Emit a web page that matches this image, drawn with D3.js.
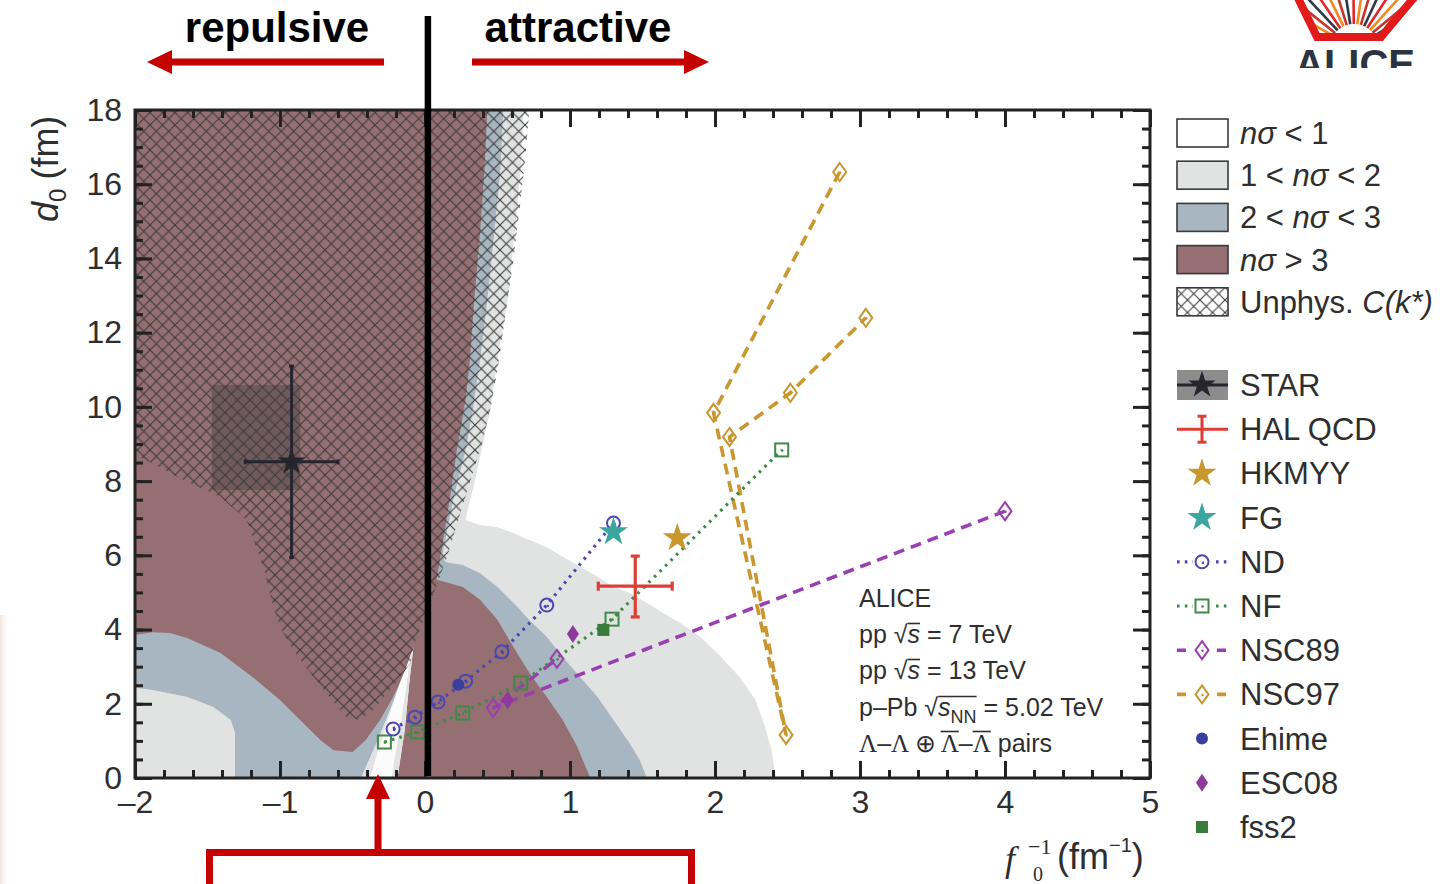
<!DOCTYPE html>
<html>
<head>
<meta charset="utf-8">
<script src="https://cdn.jsdelivr.net/npm/d3@7/dist/d3.min.js"></script>
<style>
  html, body { margin: 0; padding: 0; background: #ffffff; }
  svg { display: block; font-family: "Liberation Sans", Arial, Helvetica, sans-serif; }
</style>
</head>
<body>
<svg id="chart" width="1442" height="884"></svg>
<script>
// ---------------- axes ----------------
const fDomain = [-2, 5];
const dDomain = [0, 18];
const fMajorTicks = [-2, -1, 0, 1, 2, 3, 4, 5];
const dMajorTicks = [0, 2, 4, 6, 8, 10, 12, 14, 16, 18];
const fMinorStep = 0.2;
const dMinorStep = 0.5;

// ---------------- exclusion regions, vertices as [f0^-1 (fm^-1), d0 (fm)] ----------------
// n sigma > 1 (right-hand hump and strip)
const regionAbove1Right = [[-0.03,18],[0.68,18],[0.66,16.38],[0.62,14.77],[0.57,12.88],[0.50,11.26],[0.45,9.92],[0.39,8.84],[0.33,7.76],[0.31,7.49],[0.28,6.95],[0.38,6.82],[0.50,6.76],[0.61,6.60],[0.72,6.41],[0.84,6.22],[0.95,5.96],[1.07,5.69],[1.19,5.42],[1.30,5.15],[1.41,4.99],[1.53,4.72],[1.64,4.45],[1.76,4.18],[1.90,3.80],[2.03,3.31],[2.17,2.72],[2.28,2.10],[2.34,1.43],[2.39,0.75],[2.42,0],[-0.03,0]];
// n sigma > 2 (right-hand band and strip)
const regionAbove2Right = [[-0.03,18],[0.54,18],[0.52,16.38],[0.48,14.77],[0.43,12.88],[0.38,11.26],[0.33,9.92],[0.28,8.84],[0.21,7.76],[0.16,6.82],[0.12,6.01],[0.14,5.82],[0.26,5.74],[0.38,5.52],[0.50,5.15],[0.61,4.72],[0.72,4.26],[0.84,3.80],[0.95,3.26],[1.07,2.72],[1.19,2.18],[1.30,1.56],[1.41,0.94],[1.48,0.49],[1.53,0],[-0.03,0]];
// 1 < n sigma < 2 corner, lower left
const region1to2Left = [[-2,0],[-2,2.43],[-1.88,2.37],[-1.64,2.18],[-1.46,1.91],[-1.34,1.56],[-1.31,1.21],[-1.31,0]];
// 2 < n sigma < 3, lower left
const region2to3Left = [[-1.31,0],[-1.31,1.21],[-1.34,1.56],[-1.46,1.91],[-1.64,2.18],[-1.88,2.37],[-2,2.43],[-2,4.5],[-0.08,4.5],[-0.08,3.53],[-0.10,3.31],[-0.16,2.64],[-0.24,1.83],[-0.34,0.89],[-0.44,0]];
// n sigma > 3
const regionAbove3 = [[-2,18],[0.43,18],[0.41,16.38],[0.38,14.69],[0.34,12.88],[0.31,11.26],[0.28,10.19],[0.22,8.84],[0.17,7.49],[0.12,6.28],[0.08,5.34],[0.17,5.25],[0.26,5.15],[0.38,4.80],[0.50,4.26],[0.61,3.53],[0.72,2.83],[0.84,2.18],[0.95,1.56],[1.05,0.84],[1.14,0],[-0.19,0],[-0.14,1.29],[-0.11,2.50],[-0.08,3.53],[-0.10,3.31],[-0.14,2.83],[-0.22,2.18],[-0.31,1.56],[-0.41,1.02],[-0.50,0.70],[-0.63,0.75],[-0.72,1.02],[-0.84,1.48],[-1.00,2.10],[-1.19,2.72],[-1.41,3.37],[-1.64,3.77],[-1.76,3.91],[-1.88,3.93],[-2,3.85]];
// narrow valley near f0^-1 = -0.3
const valleyOuter = [[-0.44,0],[-0.34,0.89],[-0.24,1.83],[-0.16,2.64],[-0.10,3.31],[-0.08,3.53],[-0.11,2.50],[-0.14,1.29],[-0.19,0]];
const valleyInner = [[-0.38,0],[-0.28,1.30],[-0.17,2.60],[-0.105,3.20],[-0.13,2.40],[-0.18,1.20],[-0.23,0]];
// unphysical correlation function
const regionUnphysical = [[-2,18],[0.72,18],[0.69,16.65],[0.66,15.58],[0.61,13.96],[0.55,12.34],[0.50,10.99],[0.45,9.92],[0.39,8.97],[0.31,7.98],[0.23,6.95],[0.15,5.93],[0.10,5.39],[0.05,4.88],[0.00,4.39],[-0.08,3.53],[-0.10,3.10],[-0.17,2.72],[-0.26,2.29],[-0.36,1.83],[-0.45,1.56],[-0.54,1.64],[-0.66,2.18],[-0.79,2.83],[-0.91,3.45],[-1.00,4.07],[-1.06,4.80],[-1.10,5.47],[-1.14,5.96],[-1.23,6.95],[-1.41,7.57],[-1.69,8.08],[-1.90,8.52],[-2,8.70]];

// ---------------- measurements and models ----------------
const starF = -0.92, starD = 8.52, starFErr = 0.32, starDErr = 2.58;
const starSysF = [-1.47, -0.86], starSysD = [7.76, 10.59];
const halF = 1.45, halD = 5.17, halFErr = 0.255, halDErrLo = 0.83, halDErrHi = 0.81;
const hkmyyF = [1.74], hkmyyD = [6.47];
const fgF = [1.30], fgD = [6.63];
const ndF = [-0.22, -0.07, 0.09, 0.28, 0.53, 0.84, 1.30];
const ndD = [1.32, 1.64, 2.05, 2.61, 3.40, 4.66, 6.87];
const nfF = [-0.28, -0.05, 0.26, 0.66, 1.29, 2.46];
const nfD = [0.97, 1.24, 1.75, 2.56, 4.28, 8.84];
const nsc89F = [4.00, 0.47, 0.91];
const nsc89D = [7.19, 1.89, 3.21];
const nsc97F = [2.86, 1.99, 2.49, 2.10, 2.52, 3.04];
const nsc97D = [16.33, 9.84, 1.16, 9.19, 10.38, 12.40];
const ehimeF = [0.23], ehimeD = [2.51];
const esc08F = [0.57, 1.02], esc08D = [2.10, 3.88];
const fss2F = [1.23], fss2D = [3.99];

const regionLegend = [
  { parts: [{ t: "nσ", i: true }, { t: " < 1" }], key: "white" },
  { parts: [{ t: "1 < " }, { t: "nσ", i: true }, { t: " < 2" }], key: "light" },
  { parts: [{ t: "2 < " }, { t: "nσ", i: true }, { t: " < 3" }], key: "blue" },
  { parts: [{ t: "nσ", i: true }, { t: " > 3" }], key: "maroon" },
  { parts: [{ t: "Unphys. " }, { t: "C(k*)", i: true }], key: "hatch" }
];
const seriesLegend = ["STAR", "HAL QCD", "HKMYY", "FG", "ND", "NF", "NSC89", "NSC97", "Ehime", "ESC08", "fss2"];

// ---------------- styles ----------------
const COL = {
  white: "#ffffff", light: "#e1e2e2", blue: "#a7b6c0", maroon: "#956f71",
  ink: "#222222", text: "#2e2e2e", red: "#c40000",
  star: "#25252f", hal: "#dd3d32", hkmyy: "#c8982f", fg: "#3ba69f",
  nd: "#4a47b0", nf: "#3f8a47", nsc89: "#9a3fb0", nsc97: "#c9962f",
  ehime: "#383f9c", esc08: "#8e3a9c", fss2: "#3b7a3d"
};
const SERIF = "'Liberation Serif', 'Times New Roman', serif";

const svg = d3.select("#chart");
const defs = svg.append("defs");

const x = d3.scaleLinear().domain(fDomain).range([135, 1150]);
const y = d3.scaleLinear().domain(dDomain).range([778, 110]);

defs.append("clipPath").attr("id", "plotClip").append("rect")
  .attr("x", x(fDomain[0])).attr("y", y(dDomain[1]))
  .attr("width", x(fDomain[1]) - x(fDomain[0])).attr("height", y(dDomain[0]) - y(dDomain[1]));

const hatch = defs.append("pattern").attr("id", "hatch")
  .attr("patternUnits", "userSpaceOnUse").attr("width", 12.5).attr("height", 12.5);
hatch.append("path").attr("d", "M0,0L12.5,12.5M12.5,0L0,12.5")
  .attr("stroke", "#3a3a3a").attr("stroke-width", 1.05).attr("fill", "none");

const edgeGrad = defs.append("linearGradient").attr("id", "edgeGrad").attr("x1", 0).attr("x2", 1).attr("y1", 0).attr("y2", 0);
edgeGrad.append("stop").attr("offset", 0).attr("stop-color", "#f4e4df");
edgeGrad.append("stop").attr("offset", 1).attr("stop-color", "#ffffff").attr("stop-opacity", 0);
svg.append("rect").attr("x", 0).attr("y", 615).attr("width", 11).attr("height", 269).attr("fill", "url(#edgeGrad)");

// ---------------- regions ----------------
const polyLine = d3.line().x(p => x(p[0])).y(p => y(p[1]));
const plot = svg.append("g").attr("clip-path", "url(#plotClip)");
function region(pts, fill) { plot.append("path").attr("d", polyLine(pts) + "Z").attr("fill", fill); }
region(regionAbove1Right, COL.light);
region(regionAbove2Right, COL.blue);
region(region1to2Left, COL.light);
region(region2to3Left, COL.blue);
region(regionAbove3, COL.maroon);
region(valleyOuter, COL.light);
region(valleyInner, "#fbfbfb");

// STAR systematic box sits under the hatching
plot.append("rect")
  .attr("x", x(starSysF[0])).attr("y", y(starSysD[1]))
  .attr("width", x(starSysF[1]) - x(starSysF[0])).attr("height", y(starSysD[0]) - y(starSysD[1]))
  .attr("fill", "#3e3e3e").attr("fill-opacity", 0.42);

region(regionUnphysical, "url(#hatch)");

// ---------------- model lines ----------------
function series(fs, ds) { return fs.map((f, i) => [f, ds[i]]); }
const DOT = "2.6,5.2", DASH = "11,7";
function modelLine(pts, color, dash, width) {
  plot.append("path").attr("d", polyLine(pts)).attr("fill", "none")
    .attr("stroke", color).attr("stroke-width", width).attr("stroke-dasharray", dash);
}
modelLine(series(nsc97F, nsc97D), COL.nsc97, DASH, 3.6);
modelLine(series(nsc89F, nsc89D), COL.nsc89, DASH, 3.6);
modelLine(series(nfF, nfD), COL.nf, DOT, 3.2);
modelLine(series(ndF, ndD), COL.nd, DOT, 3.2);

// ---------------- markers ----------------
const marks = svg.append("g");
function openCircle(g, cx, cy, color) {
  g.append("circle").attr("cx", cx).attr("cy", cy).attr("r", 6.5).attr("fill", "none").attr("stroke", color).attr("stroke-width", 2);
  g.append("circle").attr("cx", cx + 1).attr("cy", cy + 1).attr("r", 1.3).attr("fill", color);
}
function openSquare(g, cx, cy, color) {
  g.append("rect").attr("x", cx - 6.5).attr("y", cy - 6.5).attr("width", 13).attr("height", 13).attr("fill", "none").attr("stroke", color).attr("stroke-width", 2);
  g.append("circle").attr("cx", cx + 0.5).attr("cy", cy + 0.5).attr("r", 1.3).attr("fill", color);
}
function openDiamond(g, cx, cy, color) {
  g.append("path").attr("d", `M${cx},${cy - 9}L${cx + 6.5},${cy}L${cx},${cy + 9}L${cx - 6.5},${cy}Z`).attr("fill", "#fff").attr("fill-opacity", 0).attr("stroke", color).attr("stroke-width", 2);
  g.append("circle").attr("cx", cx + 0.5).attr("cy", cy + 0.5).attr("r", 1.2).attr("fill", color);
}
function filledCircle(g, cx, cy, color) { g.append("circle").attr("cx", cx).attr("cy", cy).attr("r", 6).attr("fill", color); }
function filledDiamond(g, cx, cy, color) { g.append("path").attr("d", `M${cx},${cy - 9}L${cx + 6},${cy}L${cx},${cy + 9}L${cx - 6},${cy}Z`).attr("fill", color); }
function filledSquare(g, cx, cy, color) { g.append("rect").attr("x", cx - 6).attr("y", cy - 6).attr("width", 12).attr("height", 12).attr("fill", color); }
function star(g, cx, cy, color, size) { g.append("path").attr("d", d3.symbol(d3.symbolStar).size(size)()).attr("transform", `translate(${cx},${cy})`).attr("fill", color); }

nsc97F.forEach((f, i) => openDiamond(marks, x(f), y(nsc97D[i]), COL.nsc97));
nsc89F.forEach((f, i) => openDiamond(marks, x(f), y(nsc89D[i]), COL.nsc89));
nfF.forEach((f, i) => openSquare(marks, x(f), y(nfD[i]), COL.nf));
ndF.forEach((f, i) => openCircle(marks, x(f), y(ndD[i]), COL.nd));
ehimeF.forEach((f, i) => filledCircle(marks, x(f), y(ehimeD[i]), COL.ehime));
esc08F.forEach((f, i) => filledDiamond(marks, x(f), y(esc08D[i]), COL.esc08));
fss2F.forEach((f, i) => filledSquare(marks, x(f), y(fss2D[i]), COL.fss2));
hkmyyF.forEach((f, i) => star(marks, x(f), y(hkmyyD[i]), COL.hkmyy, 260));
fgF.forEach((f, i) => star(marks, x(f), y(fgD[i]), COL.fg, 260));

// error bars with end caps
function errorCross(g, f, d, fLo, fHi, dLo, dHi, color, width, cap) {
  const cx = x(f), cy = y(d);
  g.append("line").attr("x1", x(f - fLo)).attr("x2", x(f + fHi)).attr("y1", cy).attr("y2", cy).attr("stroke", color).attr("stroke-width", width);
  g.append("line").attr("x1", cx).attr("x2", cx).attr("y1", y(d - dLo)).attr("y2", y(d + dHi)).attr("stroke", color).attr("stroke-width", width);
  [[x(f - fLo), cy, 0], [x(f + fHi), cy, 0], [cx, y(d - dLo), 1], [cx, y(d + dHi), 1]].forEach(([px, py, vert]) => {
    if (vert) g.append("line").attr("x1", px - cap).attr("x2", px + cap).attr("y1", py).attr("y2", py).attr("stroke", color).attr("stroke-width", width);
    else g.append("line").attr("x1", px).attr("x2", px).attr("y1", py - cap).attr("y2", py + cap).attr("stroke", color).attr("stroke-width", width);
  });
}
errorCross(marks, halF, halD, halFErr, halFErr, halDErrLo, halDErrHi, COL.hal, 3.2, 4.5);
errorCross(marks, starF, starD, starFErr, starFErr, starDErr, starDErr, COL.star, 3, 2.5);
star(marks, x(starF), y(starD), COL.star, 230);

// ---------------- frame and ticks ----------------
const fmt = v => (v < 0 ? "–" + Math.abs(v) : String(v));
const fMinor = d3.range(fDomain[0], fDomain[1] + 1e-9, fMinorStep).map(v => +v.toFixed(2));
const dMinor = d3.range(dDomain[0], dDomain[1] + 1e-9, dMinorStep);
function styleAxis(g) {
  g.select(".domain").remove();
  g.attr("font-family", null).attr("font-size", 32);
  g.selectAll(".tick line").attr("stroke", COL.ink).attr("stroke-width", 3);
  g.selectAll(".tick text").attr("fill", COL.text);
}
const axes = svg.append("g");
axes.append("g").attr("transform", `translate(0,${y(0)})`)
  .call(d3.axisBottom(x).tickValues(fMinor).tickSize(-8).tickSizeOuter(0).tickFormat("")).call(styleAxis);
axes.append("g").attr("transform", `translate(0,${y(0)})`)
  .call(d3.axisBottom(x).tickValues(fMajorTicks).tickSize(-17).tickSizeOuter(0).tickPadding(12).tickFormat(fmt)).call(styleAxis);
axes.append("g").attr("transform", `translate(0,${y(18)})`)
  .call(d3.axisTop(x).tickValues(fMinor).tickSize(-8).tickSizeOuter(0).tickFormat("")).call(styleAxis);
axes.append("g").attr("transform", `translate(0,${y(18)})`)
  .call(d3.axisTop(x).tickValues(fMajorTicks).tickSize(-17).tickSizeOuter(0).tickFormat("")).call(styleAxis);
axes.append("g").attr("transform", `translate(${x(-2)},0)`)
  .call(d3.axisLeft(y).tickValues(dMinor).tickSize(-8).tickSizeOuter(0).tickFormat("")).call(styleAxis);
axes.append("g").attr("transform", `translate(${x(-2)},0)`)
  .call(d3.axisLeft(y).tickValues(dMajorTicks).tickSize(-17).tickSizeOuter(0).tickPadding(13).tickFormat(fmt)).call(styleAxis);
axes.append("g").attr("transform", `translate(${x(5)},0)`)
  .call(d3.axisRight(y).tickValues(dMinor).tickSize(-8).tickSizeOuter(0).tickFormat("")).call(styleAxis);
axes.append("g").attr("transform", `translate(${x(5)},0)`)
  .call(d3.axisRight(y).tickValues(dMajorTicks).tickSize(-17).tickSizeOuter(0).tickFormat("")).call(styleAxis);
axes.append("rect").attr("x", x(-2)).attr("y", y(18)).attr("width", x(5) - x(-2)).attr("height", y(0) - y(18))
  .attr("fill", "none").attr("stroke", COL.ink).attr("stroke-width", 3);

// axis titles
const yTitle = svg.append("text").attr("transform", "translate(58,222) rotate(-90)").attr("font-size", 36).attr("fill", COL.text);
yTitle.append("tspan").attr("font-style", "italic").text("d");
yTitle.append("tspan").attr("font-size", 24).attr("dy", 8).text("0");
yTitle.append("tspan").attr("dy", -8).attr("dx", 9).text("(fm)");

const xt = svg.append("g").attr("fill", COL.text);
xt.append("text").attr("x", 1005).attr("y", 871).attr("font-family", SERIF).attr("font-style", "italic").attr("font-size", 36).text("f");
xt.append("text").attr("x", 1028).attr("y", 854).attr("font-family", SERIF).attr("font-size", 22).text("−1");
xt.append("text").attr("x", 1033).attr("y", 881).attr("font-family", SERIF).attr("font-size", 20).text("0");
const xUnit = xt.append("text").attr("x", 1057).attr("y", 869).attr("font-size", 36);
xUnit.append("tspan").text("(fm");
xUnit.append("tspan").attr("font-size", 20).attr("dy", -17).text("−1");
xUnit.append("tspan").attr("dy", 17).text(")");

// ---------------- rich text helper ----------------
function richText(g, px, py, parts, size) {
  const t = g.append("text").attr("x", px).attr("y", py).attr("font-size", size).attr("fill", COL.text);
  let shift = 0;
  const spans = [];
  parts.forEach(p => {
    const s = t.append("tspan").text(p.t);
    if (p.i) s.attr("font-style", "italic");
    if (p.serif) s.attr("font-family", SERIF);
    const target = p.sub ? size * 0.28 : 0;
    if (target !== shift) { s.attr("dy", target - shift); shift = target; }
    if (p.sub) s.attr("font-size", size * 0.72);
    spans.push({ node: s.node(), p, shift });
  });
  // overlines, grouped by key
  const groups = {};
  spans.forEach(o => {
    if (!o.p.ov) return;
    const n = o.node;
    const x0 = n.getStartPositionOfChar(0).x;
    const x1 = x0 + n.getComputedTextLength();
    const gk = o.p.ov;
    if (!groups[gk]) groups[gk] = { x0, x1, h: o.p.oh || 0.82 };
    groups[gk].x0 = Math.min(groups[gk].x0, x0);
    groups[gk].x1 = Math.max(groups[gk].x1, x1);
  });
  Object.values(groups).forEach(gr => {
    g.append("line").attr("x1", gr.x0).attr("x2", gr.x1).attr("y1", py - size * gr.h).attr("y2", py - size * gr.h)
      .attr("stroke", COL.text).attr("stroke-width", 1.6);
  });
  return t;
}

// ---------------- legend ----------------
const leg = svg.append("g");
regionLegend.forEach((r, i) => {
  const cy = 133 + i * 42.2;
  const fill = r.key === "hatch" ? "url(#hatch)" : COL[r.key];
  leg.append("rect").attr("x", 1177).attr("y", cy - 14).attr("width", 51).attr("height", 28)
    .attr("fill", fill).attr("stroke", "#3a3a3a").attr("stroke-width", 1.6);
  richText(leg, 1240, cy + 11, r.parts, 31);
});

const legRow = i => 385 + i * 44.2;
const symX = 1202;
seriesLegend.forEach((name, i) => {
  const cy = legRow(i);
  leg.append("text").attr("x", 1240).attr("y", cy + 11).attr("font-size", 31).attr("fill", COL.text).text(name);
  if (name === "STAR") {
    leg.append("rect").attr("x", 1177).attr("y", cy - 15).attr("width", 51).attr("height", 30).attr("fill", "#8c8c8c");
    leg.append("line").attr("x1", 1177).attr("x2", 1228).attr("y1", cy).attr("y2", cy).attr("stroke", COL.star).attr("stroke-width", 3);
    star(leg, symX, cy, COL.star, 230);
  } else if (name === "HAL QCD") {
    leg.append("line").attr("x1", 1177).attr("x2", 1228).attr("y1", cy).attr("y2", cy).attr("stroke", COL.hal).attr("stroke-width", 3);
    leg.append("line").attr("x1", symX).attr("x2", symX).attr("y1", cy - 13).attr("y2", cy + 13).attr("stroke", COL.hal).attr("stroke-width", 3);
    leg.append("line").attr("x1", symX - 4.5).attr("x2", symX + 4.5).attr("y1", cy - 13).attr("y2", cy - 13).attr("stroke", COL.hal).attr("stroke-width", 3);
    leg.append("line").attr("x1", symX - 4.5).attr("x2", symX + 4.5).attr("y1", cy + 13).attr("y2", cy + 13).attr("stroke", COL.hal).attr("stroke-width", 3);
  } else if (name === "HKMYY") {
    star(leg, symX, cy, COL.hkmyy, 260);
  } else if (name === "FG") {
    star(leg, symX, cy, COL.fg, 260);
  } else if (name === "ND" || name === "NF") {
    const c = name === "ND" ? COL.nd : COL.nf;
    leg.append("line").attr("x1", 1177).attr("x2", 1228).attr("y1", cy).attr("y2", cy).attr("stroke", c).attr("stroke-width", 3.2).attr("stroke-dasharray", DOT);
    leg.append("rect").attr("x", symX - 9).attr("y", cy - 9).attr("width", 18).attr("height", 18).attr("fill", "#fff");
    if (name === "ND") openCircle(leg, symX, cy, c); else openSquare(leg, symX, cy, c);
  } else if (name === "NSC89" || name === "NSC97") {
    const c = name === "NSC89" ? COL.nsc89 : COL.nsc97;
    leg.append("line").attr("x1", 1177).attr("x2", 1228).attr("y1", cy).attr("y2", cy).attr("stroke", c).attr("stroke-width", 3.6).attr("stroke-dasharray", "9,11");
    leg.append("rect").attr("x", symX - 9).attr("y", cy - 10).attr("width", 18).attr("height", 20).attr("fill", "#fff");
    openDiamond(leg, symX, cy, c);
  } else if (name === "Ehime") {
    filledCircle(leg, symX, cy, COL.ehime);
  } else if (name === "ESC08") {
    filledDiamond(leg, symX, cy, COL.esc08);
  } else if (name === "fss2") {
    filledSquare(leg, symX, cy, COL.fss2);
  }
});

// ---------------- data-set description ----------------
const info = svg.append("g");
const infoX = 859, infoSize = 25;
richText(info, infoX, 607, [{ t: "ALICE" }], infoSize);
richText(info, infoX, 643, [{ t: "pp " }, { t: "√" }, { t: "s", i: true, ov: "a", oh: 0.78 }, { t: " = 7 TeV" }], infoSize);
richText(info, infoX, 679, [{ t: "pp " }, { t: "√" }, { t: "s", i: true, ov: "a", oh: 0.78 }, { t: " = 13 TeV" }], infoSize);
richText(info, infoX, 716, [{ t: "p–Pb " }, { t: "√" }, { t: "s", i: true, ov: "a", oh: 0.78 }, { t: "NN", sub: true, ov: "a", oh: 0.78 }, { t: " = 5.02 TeV" }], infoSize);
richText(info, infoX, 752, [{ t: "Λ", serif: true }, { t: "–" }, { t: "Λ", serif: true }, { t: " ⊕ ", serif: true },
  { t: "Λ", serif: true, ov: "b", oh: 0.82 }, { t: "–" }, { t: "Λ", serif: true, ov: "c", oh: 0.82 }, { t: " pairs" }], infoSize);

// ---------------- interaction sign annotation ----------------
const divider = 0.02;
svg.append("line").attr("x1", x(divider)).attr("x2", x(divider)).attr("y1", 16).attr("y2", y(0) - 2)
  .attr("stroke", "#000").attr("stroke-width", 6.5);

const ann = svg.append("g").attr("fill", "#000").attr("font-weight", "bold").attr("font-size", 42).attr("text-anchor", "middle");
ann.append("text").attr("x", 277).attr("y", 42).text("repulsive");
ann.append("text").attr("x", 578).attr("y", 42).text("attractive");

const arrows = svg.append("g").attr("fill", COL.red).attr("stroke", "none");
arrows.append("rect").attr("x", 168).attr("y", 58.5).attr("width", 216).attr("height", 7);
arrows.append("path").attr("d", "M147,62L172,50L172,74Z");
arrows.append("rect").attr("x", 472).attr("y", 58.5).attr("width", 216).attr("height", 7);
arrows.append("path").attr("d", "M709,62L684,50L684,74Z");
// pointer from below toward the narrow valley
arrows.append("rect").attr("x", 374.5).attr("y", 796).attr("width", 7).attr("height", 60);
arrows.append("path").attr("d", "M378,774L366,799L390,799Z");
arrows.append("rect").attr("x", 206).attr("y", 849).attr("width", 489).attr("height", 7);
arrows.append("rect").attr("x", 206).attr("y", 849).attr("width", 7).attr("height", 40);
arrows.append("rect").attr("x", 688).attr("y", 849).attr("width", 7).attr("height", 40);

// ---------------- collaboration logo ----------------
defs.append("clipPath").attr("id", "logoClip").append("rect").attr("x", 1280).attr("y", 0).attr("width", 162).attr("height", 68);
defs.append("clipPath").attr("id", "rayClip").append("path").attr("d", "M1297,-5L1317,33L1380,33L1417,-5Z");
const logo = svg.append("g");
const rayColors = ["#f08a1e", "#c8342c", "#2c3a4a", "#e4262a"];
const rays = logo.append("g").attr("clip-path", "url(#rayClip)");
d3.range(-60, 61, 8.5).forEach((a, k) => {
  const r = a * Math.PI / 180, cx = 1354, cy = 48;
  rays.append("line")
    .attr("x1", cx + 24 * Math.sin(r)).attr("y1", cy - 24 * Math.cos(r))
    .attr("x2", cx + 80 * Math.sin(r)).attr("y2", cy - 80 * Math.cos(r))
    .attr("stroke", rayColors[k % 4]).attr("stroke-width", 2.6);
});
logo.append("path").attr("d", "M1296,-6L1317,37L1381,37L1417,-6").attr("fill", "none")
  .attr("stroke", "#e31a1c").attr("stroke-width", 8).attr("stroke-linejoin", "miter");
logo.append("text").attr("clip-path", "url(#logoClip)").attr("x", 1295).attr("y", 78)
  .attr("font-size", 40).attr("font-weight", "bold").attr("fill", "#2b3440")
  .attr("textLength", 120).attr("lengthAdjust", "spacingAndGlyphs").text("ALICE");
</script>
</body>
</html>
